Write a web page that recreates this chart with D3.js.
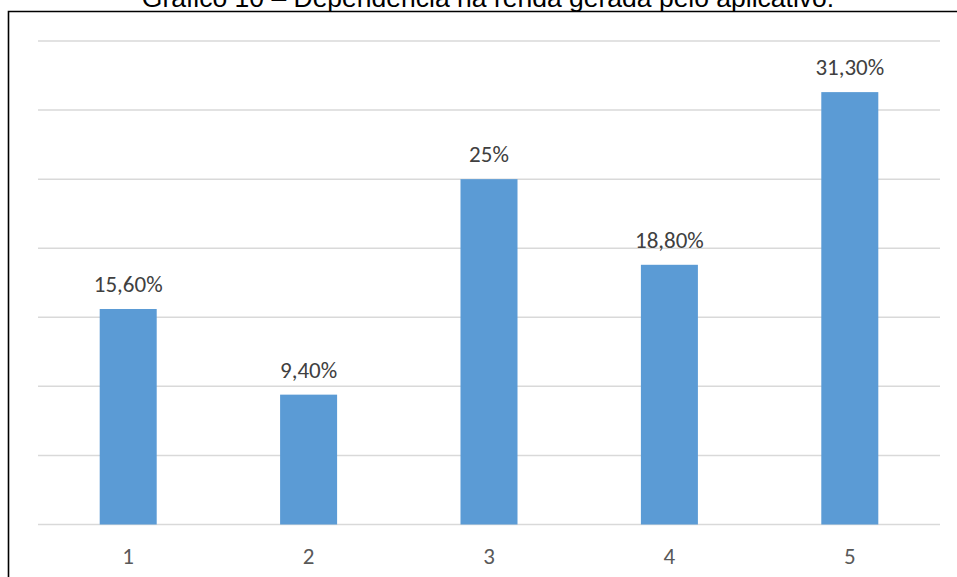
<!DOCTYPE html>
<html><head><meta charset="utf-8">
<script src="https://cdn.jsdelivr.net/npm/d3@7"></script>
<style>body{margin:0;background:#fff}svg{display:block}</style>
</head><body>
<svg id="c" width="957" height="577"></svg>
<script>
const title = "Gráfico 10 – Dependência na renda gerada pelo aplicativo.";
const categories = ["1","2","3","4","5"];
const values = [15.6, 9.4, 25, 18.8, 31.3];
const valueLabels = ["15,60%","9,40%","25%","18,80%","31,30%"];
const yTicks = [0,5,10,15,20,25,30,35];

const svg = d3.select("#c");
const x = d3.scaleBand().domain(categories).range([38, 940]).paddingInner(0.684).paddingOuter(0.342);
const y = d3.scaleLinear().domain([0,35]).range([524.5, 41]);

// frame
svg.append("path").attr("d","M8.5,577 L8.5,11.5 L957,11.5").attr("fill","none").attr("stroke","#000").attr("stroke-width",1.6);

svg.append("text").attr("x",488).attr("y",7).attr("text-anchor","middle")
  .attr("font-family","Liberation Sans, Arial, sans-serif").attr("font-size",26.5).attr("fill","#000").text(title);

// grid
svg.append("g").selectAll("line").data(yTicks).join("line")
  .attr("x1",38).attr("x2",940).attr("y1",d=>y(d)).attr("y2",d=>y(d))
  .attr("stroke","#d9d9d9").attr("stroke-width",1.5);

svg.append("g").selectAll("rect").data(values).join("rect")
  .attr("x",(d,i)=>x(categories[i])).attr("width",x.bandwidth())
  .attr("y",d=>y(d)).attr("height",d=>y(0)-y(d)).attr("fill","#5b9bd5");

svg.append("g").selectAll("text").data(values).join("text")
  .attr("x",(d,i)=>x(categories[i])+x.bandwidth()/2).attr("y",d=>y(d)-25)
  .attr("text-anchor","middle").attr("dominant-baseline","central")
  .attr("font-family","Carlito, Open Sans, Noto Sans, sans-serif").attr("font-size",23).attr("fill","#404040")
  .text((d,i)=>valueLabels[i]);

const xAxis = svg.append("g").attr("transform",`translate(0,${y(0)})`)
  .call(d3.axisBottom(x).tickSize(0).tickPadding(0));
xAxis.select(".domain").remove();
xAxis.selectAll("text").attr("y",31).attr("dy",0).attr("dominant-baseline","central")
  .attr("font-family","Carlito, Open Sans, Noto Sans, sans-serif").attr("font-size",23).attr("fill","#595959");
</script>
</body></html>
